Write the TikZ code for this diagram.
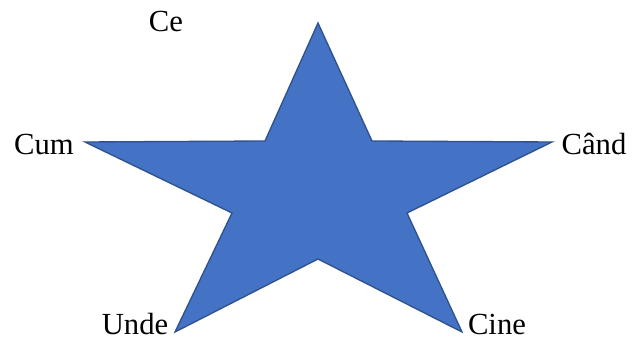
\documentclass[tikz,border=0pt]{standalone}
\usepackage{fontspec}
\setmainfont{Liberation Serif}
\definecolor{starfill}{HTML}{4472C4}
\definecolor{starline}{HTML}{2F528F}

\begin{document}
\begin{tikzpicture}[x=0.75pt, y=-0.75pt,
  word/.style={anchor=base, inner sep=0pt, font=\fontsize{23}{27}\selectfont}]
  \useasboundingbox (0,0) rectangle (632,341);
  % five-pointed star
  \draw[starline, fill=starfill, line width=1pt, line join=miter]
    (318,23) -- (372,141) -- (552,142) -- (407,213) -- (462,332)
    -- (318,259) -- (175,332) -- (232,213) -- (85,142) -- (265,141) -- cycle;
  % the question words
  \node[word] (ce)   at (166,32)  {Ce};
  \node[word] (cum)  at (44,155)  {Cum};
  \node[word] (cand) at (594,155) {Când};
  \node[word] (unde) at (135,335) {Unde};
  \node[word] (cine) at (497,335) {Cine};
\end{tikzpicture}
\end{document}
